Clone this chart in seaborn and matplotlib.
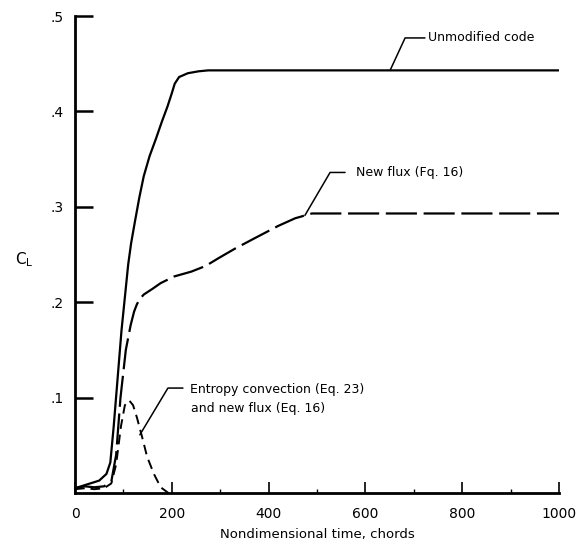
import matplotlib
matplotlib.use("Agg")
import matplotlib.pyplot as plt
import seaborn as sns
import pandas as pd
from matplotlib.ticker import FixedLocator

sns.set_style("ticks")
plt.rcParams['font.family'] = ['DejaVu Sans']
plt.rcParams['text.color'] = 'black'
plt.rcParams['xtick.color'] = 'black'
plt.rcParams['ytick.color'] = 'black'
plt.rcParams['axes.labelcolor'] = 'black'
plt.rcParams['axes.edgecolor'] = 'black'

# Unmodified code
x_unmod = [0, 25, 50, 65, 73, 80, 88, 96, 104, 110, 116, 124, 133, 142, 154, 167, 180, 191, 200, 206, 215, 233, 255, 275, 350, 500, 700, 1000]
y_unmod = [0.005, 0.009, 0.013, 0.020, 0.032, 0.070, 0.120, 0.170, 0.210, 0.240, 0.262, 0.285, 0.310, 0.332, 0.353, 0.371, 0.390, 0.405, 0.419, 0.429, 0.436, 0.440, 0.442, 0.443, 0.443, 0.443, 0.443, 0.443]

# New flux (Eq. 16)
x_flux = [0, 20, 40, 60, 75, 85, 94, 105, 115, 122, 128, 135, 142, 160, 177, 205, 240, 270, 296, 330, 371, 420, 455, 469, 480, 490, 550, 700, 1000]
y_flux = [0.005, 0.007, 0.006, 0.007, 0.012, 0.040, 0.100, 0.150, 0.176, 0.190, 0.198, 0.204, 0.208, 0.214, 0.220, 0.227, 0.232, 0.238, 0.246, 0.256, 0.267, 0.280, 0.288, 0.290, 0.292, 0.293, 0.293, 0.293, 0.293]

# Entropy convection (Eq. 23) and new flux (Eq. 16)
x_ent = [0, 20, 40, 60, 75, 85, 95, 103, 112, 120, 128, 139, 149, 163, 177, 193]
y_ent = [0.004, 0.005, 0.004, 0.005, 0.010, 0.030, 0.070, 0.092, 0.097, 0.092, 0.079, 0.058, 0.038, 0.020, 0.006, 0.000]

x_ticks = [0, 200, 400, 600, 800, 1000]
x_ticklabels = ["0", "200", "400", "600", "800", "1000"]
y_ticks = [0.1, 0.2, 0.3, 0.4, 0.5]
y_ticklabels = [".1", ".2", ".3", ".4", ".5"]

fig = plt.figure(figsize=(5.77, 5.44), dpi=100)
ax = fig.add_axes([75/577, (544-493)/544, (559-75)/577, (493-16)/544])

df_u = pd.DataFrame({"x": x_unmod, "y": y_unmod})
df_f = pd.DataFrame({"x": x_flux, "y": y_flux})
df_e = pd.DataFrame({"x": x_ent, "y": y_ent})

sns.lineplot(data=df_u, x="x", y="y", ax=ax, color="black", lw=1.6, sort=False)
sns.lineplot(data=df_f, x="x", y="y", ax=ax, color="black", lw=1.6, sort=False,
             linestyle=(0, (14, 3)))
sns.lineplot(data=df_e, x="x", y="y", ax=ax, color="black", lw=1.4, sort=False,
             linestyle=(0, (5, 3)))

ax.set_xlim(0, 1000)
ax.set_ylim(0, 0.5)
sns.despine(ax=ax)
for s in ["left", "bottom"]:
    ax.spines[s].set_linewidth(2.0)

ax.set_xticks(x_ticks)
ax.set_xticklabels(x_ticklabels)
ax.set_yticks(y_ticks)
ax.set_yticklabels(y_ticklabels)
ax.xaxis.set_minor_locator(FixedLocator([100, 300, 500, 700, 900]))
ax.tick_params(axis="y", direction="in", length=13, width=1.8, labelsize=10, pad=8)
ax.tick_params(axis="x", direction="in", length=8, width=1.2, labelsize=10, pad=10)
ax.tick_params(axis="x", which="minor", direction="in", length=3, width=1.0)

ax.set_xlabel("Nondimensional time, chords", fontsize=9.5, labelpad=5)
ax.set_ylabel("$\\mathrm{C_L}$", fontsize=11, rotation=0)
ax.yaxis.set_label_coords(-0.105, 0.47)

# Annotations
ax.plot([651, 682, 723], [0.443, 0.477, 0.477], color="black", lw=1.1)
ax.text(729, 0.477, "Unmodified code", fontsize=9, va="center", ha="left")

ax.plot([475, 527, 558], [0.291, 0.336, 0.336], color="black", lw=1.1)
ax.text(581, 0.336, "New flux (Fq. 16)", fontsize=9, va="center", ha="left")

ax.plot([134, 192, 223], [0.061, 0.110, 0.110], color="black", lw=1.1)
ax.text(238, 0.109, "Entropy convection (Eq. 23)", fontsize=9, va="center", ha="left")
ax.text(240, 0.089, "and new flux (Eq. 16)", fontsize=9, va="center", ha="left")

fig.savefig("out.png", dpi=100)
